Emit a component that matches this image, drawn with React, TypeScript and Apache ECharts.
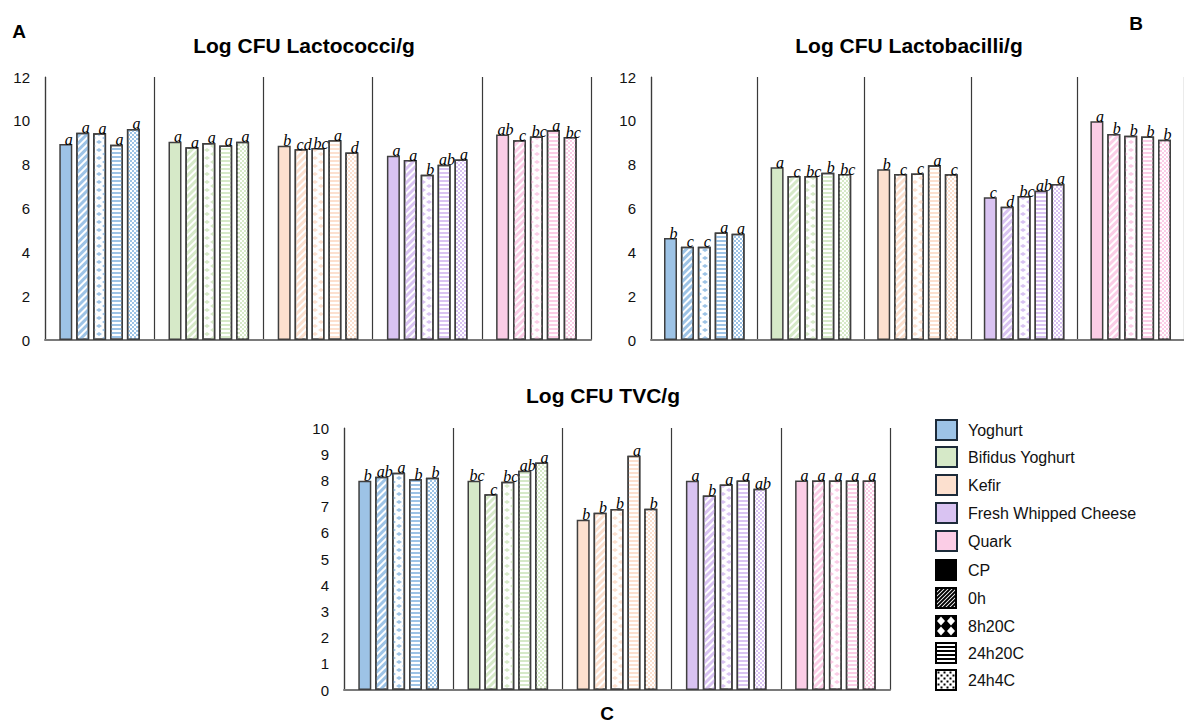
import React, { useEffect, useRef } from "react";
import * as echarts from "echarts";

const products = ["Yoghurt", "Bifidus Yoghurt", "Kefir", "Fresh Whipped Cheese", "Quark"];
const productColors = ["#9DC3E6", "#D6E9C8", "#FCE0CF", "#D9C3F2", "#FBCDE6"];
const treatments = ["CP", "0h", "8h20C", "24h20C", "24h4C"];

// values[product][treatment]
const lactococciValues = [
  [8.94, 9.46, 9.43, 8.91, 9.63],
  [9.05, 8.8, 8.99, 8.88, 9.05],
  [8.86, 8.7, 8.76, 9.11, 8.56],
  [8.41, 8.21, 7.54, 8.0, 8.24],
  [9.38, 9.11, 9.29, 9.57, 9.26],
];
const lactococciLetters = [
  ["a", "a", "a", "a", "a"],
  ["a", "a", "a", "a", "a"],
  ["b", "cd", "bc", "a", "d"],
  ["a", "a", "b", "ab", "a"],
  ["ab", "c", "bc", "a", "bc"],
];

const lactobacilliValues = [
  [4.65, 4.26, 4.26, 4.9, 4.85],
  [7.88, 7.48, 7.48, 7.63, 7.57],
  [7.79, 7.57, 7.6, 7.97, 7.56],
  [6.51, 6.08, 6.57, 6.81, 7.12],
  [9.98, 9.4, 9.32, 9.29, 9.14],
];
const lactobacilliLetters = [
  ["b", "c", "c", "a", "a"],
  ["a", "c", "bc", "b", "bc"],
  ["b", "c", "c", "a", "c"],
  ["c", "d", "bc", "ab", "a"],
  ["a", "b", "b", "b", "b"],
];

const tvcValues = [
  [7.99, 8.14, 8.29, 8.04, 8.1],
  [7.99, 7.47, 7.95, 8.37, 8.68],
  [6.5, 6.77, 6.91, 8.94, 6.92],
  [7.99, 7.42, 7.84, 8.0, 7.68],
  [8.0, 8.0, 8.0, 8.0, 8.0],
];
const tvcLetters = [
  ["b", "ab", "a", "b", "b"],
  ["bc", "c", "bc", "ab", "a"],
  ["b", "b", "b", "a", "b"],
  ["a", "b", "a", "a", "ab"],
  ["a", "a", "a", "a", "a"],
];

const panelTitles = ["Log CFU Lactococci/g", "Log CFU Lactobacilli/g", "Log CFU TVC/g"];
const panelLetters = ["A", "B", "C"];
const panelMax = [12, 12, 10];
const panelInterval = [2, 2, 1];

const SANS = "'Liberation Sans', Arial, sans-serif";
const SERIF = "'Liberation Serif', 'Times New Roman', serif";

const decals: any[] = [
  null,
  { symbol: "rect", dashArrayX: [1, 0], dashArrayY: [3, 2], rotation: -Math.PI / 4 },
  { symbol: "diamond", symbolSize: 1, symbolKeepAspect: false, dashArrayX: [[6, 6], [0, 6, 6, 0]], dashArrayY: [4, 0] },
  { symbol: "rect", dashArrayX: [1, 0], dashArrayY: [2, 2] },
  { symbol: "rect", dashArrayX: [[2, 2], [0, 2, 2, 0]], dashArrayY: [2, 0] },
];

function treatmentSwatch(t: number, x: number, y: number, s: number): any[] {
  const els: any[] = [];
  const box = (fill: string) => ({
    type: "rect",
    shape: { x, y, width: s, height: s },
    style: { fill, stroke: "#000", lineWidth: 2 },
  });
  if (t === 0) {
    els.push(box("#000"));
  } else if (t === 1) {
    els.push(box("#fff"));
    for (let c = 3; c < 2 * s; c += 4) {
      let x1, y1, x2, y2;
      if (c <= s) {
        x1 = x + c; y1 = y; x2 = x; y2 = y + c;
      } else {
        x1 = x + s; y1 = y + c - s; x2 = x + c - s; y2 = y + s;
      }
      els.push({ type: "line", shape: { x1, y1, x2, y2 }, style: { stroke: "#000", lineWidth: 1.8 } });
    }
  } else if (t === 2) {
    els.push(box("#000"));
    const h = s / 4;
    [[1, 1], [3, 1], [1, 3], [3, 3]].forEach(([i, j]) => {
      const cx = x + i * h;
      const cy = y + j * h;
      els.push({
        type: "polygon",
        shape: { points: [[cx, cy - h * 0.9], [cx + h * 0.8, cy], [cx, cy + h * 0.9], [cx - h * 0.8, cy]] },
        style: { fill: "#fff" },
      });
    });
  } else if (t === 3) {
    els.push(box("#fff"));
    for (let k = 1; k < 5; k++) {
      const yy = y + (k * s) / 5;
      els.push({ type: "line", shape: { x1: x, y1: yy, x2: x + s, y2: yy }, style: { stroke: "#000", lineWidth: 2 } });
    }
  } else {
    els.push(box("#fff"));
    for (let r = 0; r < 6; r++) {
      for (let c = 0; c < 6; c++) {
        if ((r + c) % 2 === 0) {
          els.push({
            type: "rect",
            shape: { x: x + 1.5 + c * 3, y: y + 1.5 + r * 3, width: 2, height: 2 },
            style: { fill: "#000" },
          });
        }
      }
    }
  }
  return els;
}

export default function App() {
  const ref = useRef<HTMLDivElement>(null);

  useEffect(() => {
    if (!ref.current) return;
    const chart = echarts.init(ref.current, null, { renderer: "svg" });

    const grids = [
      { left: 45, top: 77, width: 546, height: 263 },
      { left: 651, top: 77, width: 546, height: 263 },
      { left: 344, top: 428, width: 546, height: 262 },
    ];
    const panelValues = [lactococciValues, lactobacilliValues, tvcValues];
    const panelLetterSets = [lactococciLetters, lactobacilliLetters, tvcLetters];

    const xAxes = grids.map((_, gi) => ({
      type: "category",
      gridIndex: gi,
      data: products,
      axisTick: { show: false },
      axisLabel: { show: false },
      axisLine: { show: true, lineStyle: { color: "#7a7a7a", width: 2 } },
      splitLine: { show: true, interval: 0, lineStyle: { color: "#3a3a3a", width: 1.2 } },
    }));
    const yAxes = grids.map((_, gi) => ({
      type: "value",
      gridIndex: gi,
      min: 0,
      max: panelMax[gi],
      interval: panelInterval[gi],
      axisLine: { show: true, lineStyle: { color: "#3a3a3a", width: 1.2 } },
      axisTick: { show: false },
      splitLine: { show: false },
      axisLabel: { fontFamily: SANS, fontSize: 15, color: "#111", margin: 15 },
    }));

    const series: any[] = [];
    panelValues.forEach((vals, gi) => {
      const letters = panelLetterSets[gi];
      treatments.forEach((tName, ti) => {
        series.push({
          type: "bar",
          name: tName,
          xAxisIndex: gi,
          yAxisIndex: gi,
          barWidth: 13,
          barGap: "30%",
          data: vals.map((row, pi) => ({
            value: row[ti],
            itemStyle:
              ti === 0
                ? { color: productColors[pi], borderColor: "#3f3f3f", borderWidth: 1.5 }
                : {
                    color: "#ffffff",
                    borderColor: "#3f3f3f",
                    borderWidth: 1.5,
                    decal: { ...decals[ti], color: productColors[pi] },
                  },
          })),
          label: {
            show: true,
            position: "top",
            distance: 0,
            offset: [3, 3],
            formatter: (p: any) => letters[p.dataIndex][ti],
            fontFamily: SERIF,
            fontStyle: "italic",
            fontSize: 16,
            color: "#000",
            textBorderWidth: 0,
          },
        });
      });
    });

    const graphics: any[] = [];
    const titlePos = [
      [304, 45],
      [909, 45],
      [603, 395],
    ];
    panelTitles.forEach((t, i) => {
      graphics.push({
        type: "text",
        x: titlePos[i][0],
        y: titlePos[i][1],
        style: { text: t, fill: "#000", font: `bold 21px ${SANS}`, textAlign: "center", textVerticalAlign: "middle" },
      });
    });
    const letterPos = [
      [19, 31],
      [1136, 23],
      [607, 713],
    ];
    panelLetters.forEach((t, i) => {
      graphics.push({
        type: "text",
        x: letterPos[i][0],
        y: letterPos[i][1],
        style: { text: t, fill: "#000", font: `bold 19px ${SANS}`, textAlign: "center", textVerticalAlign: "middle" },
      });
    });

    const legendX = 936;
    const sw = 20;
    const productRowsY = [420, 447, 475, 503, 531];
    const treatmentRowsY = [560, 588, 616, 643, 670];
    products.forEach((p, i) => {
      const y = productRowsY[i];
      graphics.push({
        type: "rect",
        shape: { x: legendX, y, width: sw + 1, height: sw },
        style: { fill: productColors[i], stroke: "#1d2b3a", lineWidth: 2 },
      });
      graphics.push({
        type: "text",
        x: 968,
        y: y + sw / 2,
        style: { text: p, fill: "#111", font: `16px ${SANS}`, textVerticalAlign: "middle" },
      });
    });
    treatments.forEach((t, i) => {
      const y = treatmentRowsY[i];
      treatmentSwatch(i, legendX, y, sw).forEach((e) => graphics.push(e));
      graphics.push({
        type: "text",
        x: 968,
        y: y + sw / 2,
        style: { text: t, fill: "#111", font: `16px ${SANS}`, textVerticalAlign: "middle" },
      });
    });

    chart.setOption({
      animation: false,
      backgroundColor: "#fff",
      grid: grids,
      xAxis: xAxes,
      yAxis: yAxes,
      series,
      graphic: { elements: graphics },
    });

    return () => chart.dispose();
  }, []);

  return (
    <div
      ref={ref}
      style={{ position: "fixed", left: 0, top: 0, width: 1184, height: 722, background: "#fff" }}
    />
  );
}
